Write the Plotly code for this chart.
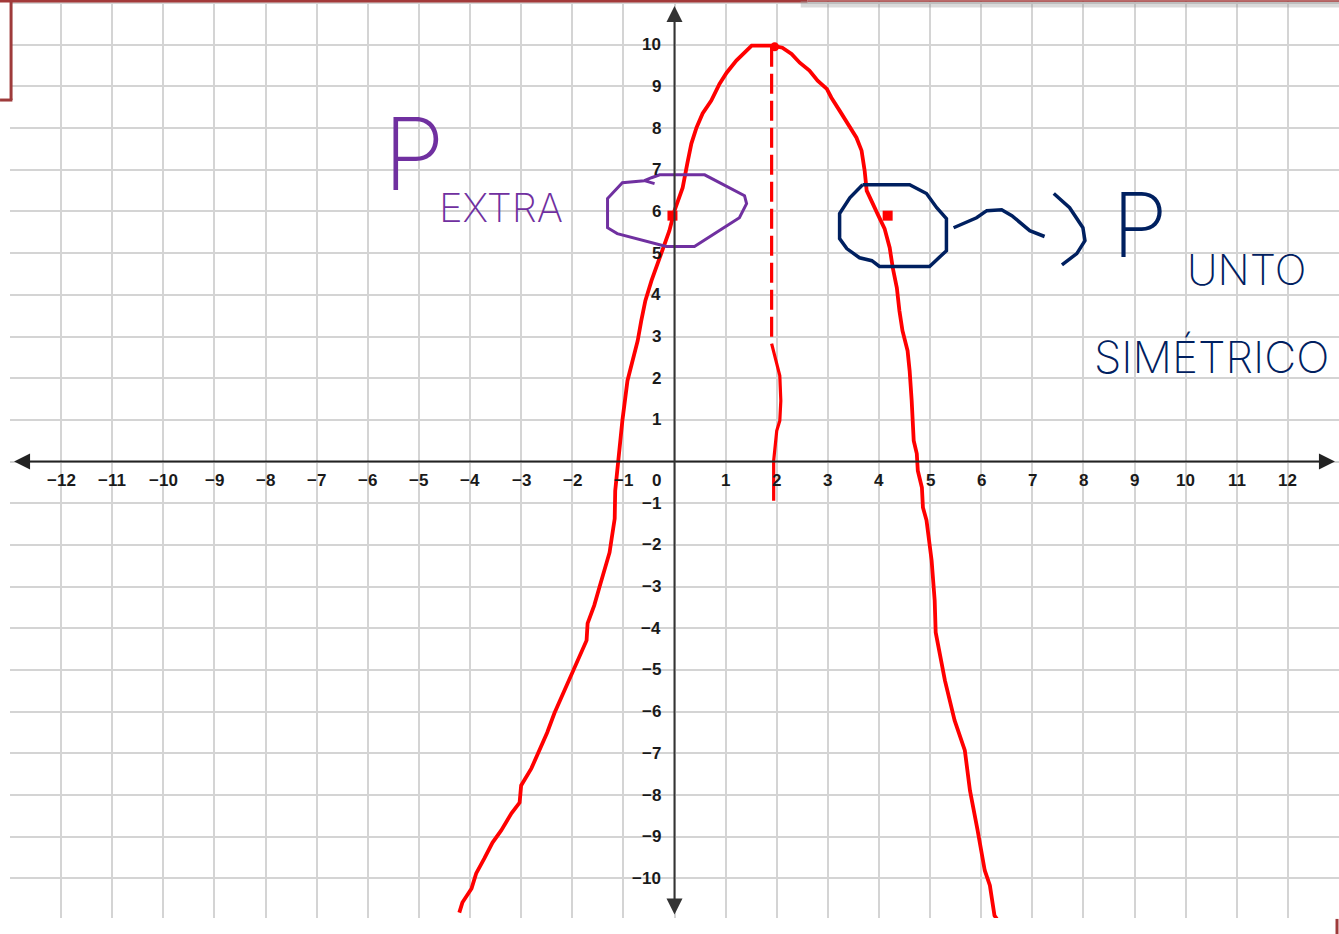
import plotly.graph_objects as go

# ---------------- data ----------------
x_ticks = [-12, -11, -10, -9, -8, -7, -6, -5, -4, -3, -2, -1, 1, 2, 3, 4, 5, 6, 7, 8, 9, 10, 11, 12]
x_tick_labels = ["−12", "−11", "−10", "−9", "−8", "−7", "−6", "−5", "−4", "−3", "−2", "−1",
                 "1", "2", "3", "4", "5", "6", "7", "8", "9", "10", "11", "12"]
y_ticks = [10, 9, 8, 7, 6, 5, 4, 3, 2, 1, -1, -2, -3, -4, -5, -6, -7, -8, -9, -10]
y_tick_labels = ["10", "9", "8", "7", "6", "5", "4", "3", "2", "1", "−1", "−2", "−3", "−4",
                 "−5", "−6", "−7", "−8", "−9", "−10"]

# hand-drawn parabola
curve_x = [-4.21, -4.15, -3.97, -3.88, -3.72, -3.56, -3.39, -3.19, -3.03, -3.00, -2.80, -2.64,
           -2.49, -2.35, -2.21, -2.09, -1.96, -1.82, -1.72, -1.70, -1.57, -1.47, -1.37, -1.27,
           -1.23, -1.17, -1.16, -1.14, -1.10, -1.06, -1.02, -0.92, -0.82, -0.72, -0.65, -0.57,
           -0.45, -0.33, -0.20, -0.10, 0.00, 0.16, 0.25, 0.33, 0.43, 0.55, 0.72, 0.88, 1.02,
           1.21, 1.41, 1.51, 1.92, 2.11, 2.29, 2.45, 2.64, 2.80, 2.98, 3.07, 3.23, 3.39, 3.56,
           3.66, 3.72, 3.76, 3.86, 3.97, 4.11, 4.21, 4.27, 4.35, 4.40, 4.46, 4.56, 4.60, 4.64,
           4.66, 4.68, 4.74, 4.76, 4.84, 4.86, 4.93, 5.03, 5.09, 5.11, 5.29, 5.48, 5.68, 5.78,
           5.93, 6.07, 6.17, 6.26, 6.46]
curve_y = [-10.82, -10.58, -10.24, -9.88, -9.52, -9.14, -8.85, -8.44, -8.18, -7.77, -7.36, -6.93,
           -6.50, -6.04, -5.66, -5.32, -4.96, -4.60, -4.29, -3.88, -3.45, -3.02, -2.57, -2.18,
           -1.85, -1.37, -0.70, -0.46, 0.10, 0.50, 0.98, 1.94, 2.42, 2.90, 3.38, 3.86,
           4.34, 4.77, 5.18, 5.54, 6.02, 6.57, 7.15, 7.63, 8.01, 8.35, 8.66, 9.06, 9.33,
           9.62, 9.86, 9.98, 9.98, 9.93, 9.78, 9.57, 9.38, 9.14, 8.94, 8.73, 8.42, 8.11, 7.77,
           7.46, 6.98, 6.50, 6.21, 5.95, 5.59, 5.13, 4.65, 4.17, 3.62, 3.14, 2.66, 2.18, 1.46,
           0.98, 0.50, 0.19, -0.22, -0.62, -1.10, -1.41, -2.37, -3.33, -4.10, -5.25, -6.21, -6.93, -7.89,
           -8.85, -9.81, -10.17, -10.89, -11.25]

# axis of symmetry (dashed part, then hand-drawn solid part)
axis_dash_x = [1.90, 1.90]
axis_dash_y = [9.95, 2.83]
axis_solid_x = [1.90, 1.98, 2.06, 2.08, 2.06, 2.00, 1.96, 1.94, 1.94]
axis_solid_y = [2.83, 2.42, 2.06, 1.46, 0.98, 0.74, 0.26, 0.02, -0.94]

# marked points
point_x = [-0.04, 4.17]
point_y = [5.90, 5.90]
vertex_x = [1.96]
vertex_y = [9.95]

# purple circle around extra point
purple_x = [-0.39, -0.59, -0.45, -0.29, 0.59, 0.88, 1.37, 1.41, 1.27, 0.94, 0.39, -0.16,
            -0.74, -1.12, -1.31, -1.31, -1.02, -0.59]
purple_y = [6.67, 6.74, 6.81, 6.88, 6.88, 6.69, 6.38, 6.19, 5.85, 5.59, 5.16, 5.16,
            5.35, 5.47, 5.61, 6.31, 6.69, 6.74]

# navy circle around symmetric point
navy_x = [3.68, 4.60, 4.93, 5.13, 5.32, 5.32, 4.99, 4.01, 3.86, 3.62, 3.37, 3.23, 3.23, 3.43, 3.68]
navy_y = [6.64, 6.64, 6.43, 6.09, 5.83, 5.06, 4.68, 4.68, 4.82, 4.89, 5.11, 5.35, 5.95, 6.33, 6.64]

# navy "~)" arrow
tilde_x = [5.46, 5.64, 5.91, 6.11, 6.40, 6.60, 6.95, 7.24]
tilde_y = [5.61, 5.71, 5.85, 6.02, 6.04, 5.90, 5.54, 5.40]
paren_x = [7.42, 7.73, 7.99, 8.03, 7.87, 7.58]
paren_y = [6.43, 6.09, 5.61, 5.30, 4.99, 4.72]

RED = "#ff0000"
PURPLE = "#7030a0"
NAVY = "#002060"

fig = go.Figure()

fig.add_trace(go.Scatter(x=curve_x, y=curve_y, mode="lines",
                         line=dict(color=RED, width=3.8), hoverinfo="skip"))
fig.add_trace(go.Scatter(x=axis_dash_x, y=axis_dash_y, mode="lines",
                         line=dict(color=RED, width=3.2, dash="20px,7px"), hoverinfo="skip"))
fig.add_trace(go.Scatter(x=axis_solid_x, y=axis_solid_y, mode="lines",
                         line=dict(color=RED, width=3.2), hoverinfo="skip"))
fig.add_trace(go.Scatter(x=point_x, y=point_y, mode="markers",
                         marker=dict(color=RED, size=10, symbol="square"), hoverinfo="skip"))
fig.add_trace(go.Scatter(x=vertex_x, y=vertex_y, mode="markers",
                         marker=dict(color=RED, size=9, symbol="circle"), hoverinfo="skip"))
fig.add_trace(go.Scatter(x=purple_x, y=purple_y, mode="lines",
                         line=dict(color=PURPLE, width=3), hoverinfo="skip"))
for xs, ys in [(navy_x, navy_y), (tilde_x, tilde_y), (paren_x, paren_y)]:
    fig.add_trace(go.Scatter(x=xs, y=ys, mode="lines",
                             line=dict(color=NAVY, width=3.5), hoverinfo="skip"))

annotations = []
# coordinate axes with arrowheads
annotations.append(dict(x=12.92, y=0, ax=-12.95, ay=0, xref="x", yref="y", axref="x", ayref="y",
                        text="", showarrow=True, arrowside="end+start", arrowhead=2,
                        startarrowhead=2, arrowsize=1.6, startarrowsize=1.6,
                        arrowwidth=2, arrowcolor="#222222"))
annotations.append(dict(x=0, y=10.93, ax=0, ay=-10.9, xref="x", yref="y", axref="x", ayref="y",
                        text="", showarrow=True, arrowside="end+start", arrowhead=2,
                        startarrowhead=2, arrowsize=1.6, startarrowsize=1.6,
                        arrowwidth=2, arrowcolor="#333333"))

tick_font = dict(family="Liberation Sans, Arial, sans-serif", size=17, color="#1a1a1a", weight="bold")
for xv, lab in zip(x_ticks, x_tick_labels):
    annotations.append(dict(x=xv, y=-0.46, xref="x", yref="y", text=lab, showarrow=False,
                            xanchor="center", yanchor="middle", font=tick_font))
for yv, lab in zip(y_ticks, y_tick_labels):
    annotations.append(dict(x=-0.22, y=yv, xref="x", yref="y", text=lab, showarrow=False,
                            xanchor="right", yanchor="middle", font=tick_font))
annotations.append(dict(x=-0.35, y=-0.46, xref="x", yref="y", text="0", showarrow=False,
                        xanchor="center", yanchor="middle", font=tick_font))

# handwritten words
hand = "Inter, Noto Sans, sans-serif"
annotations.append(dict(x=-5.1, y=7.4, xref="x", yref="y", text="P", showarrow=False,
                        font=dict(family=hand, size=100, color=PURPLE, weight=200)))
annotations.append(dict(x=-3.4, y=6.1, xref="x", yref="y", text="EXTRA", showarrow=False,
                        font=dict(family=hand, size=40, color=PURPLE, weight=200)))
annotations.append(dict(x=9.1, y=5.7, xref="x", yref="y", text="P", showarrow=False,
                        font=dict(family=hand, size=90, color=NAVY, weight=200)))
annotations.append(dict(x=11.2, y=4.6, xref="x", yref="y", text="UNTO", showarrow=False,
                        font=dict(family=hand, size=42, color=NAVY, weight=200)))
annotations.append(dict(x=10.5, y=2.5, xref="x", yref="y", text="SIMÉTRICO", showarrow=False,
                        font=dict(family=hand, size=44, color=NAVY, weight=200)))

shapes = [
    # window frame remnants
    dict(type="line", xref="paper", yref="paper", x0=-0.01, x1=0.6, y0=1.0, y1=1.0,
         line=dict(color="#a33a3a", width=3)),
    dict(type="rect", xref="paper", yref="paper", x0=0.595, x1=1.0, y0=0.993, y1=1.0,
         line=dict(width=0), fillcolor="rgba(150,150,150,0.35)"),
    dict(type="line", xref="paper", yref="paper", x0=0.6, x1=1.0, y0=1.0, y1=1.0,
         line=dict(color="#a33a3a", width=1.5)),
    dict(type="line", xref="paper", yref="paper", x0=0.0008, x1=0.0008, y0=1.0, y1=0.892,
         line=dict(color="#9e3b3b", width=3)),
    dict(type="line", xref="paper", yref="paper", x0=-0.0075, x1=0.0018, y0=0.892, y1=0.892,
         line=dict(color="#9e3b3b", width=3)),
    dict(type="line", xref="paper", yref="paper", x0=0.9985, x1=0.9985, y0=-0.001, y1=-0.018,
         line=dict(color="#9e3b3b", width=3)),
]

fig.update_layout(
    width=1339, height=934,
    margin=dict(l=10, r=0, t=1, b=16),
    paper_bgcolor="white", plot_bgcolor="white",
    showlegend=False,
    xaxis=dict(range=[-13, 13], dtick=1, tick0=0, showgrid=True, gridcolor="#d4d4d4",
               gridwidth=2, zeroline=False, showticklabels=False, ticks="", fixedrange=True),
    yaxis=dict(range=[-10.95, 11.05], dtick=1, tick0=0, showgrid=True, gridcolor="#d4d4d4",
               gridwidth=2, zeroline=False, showticklabels=False, ticks="", fixedrange=True),
    annotations=annotations,
    shapes=shapes,
)

fig.write_html("out.html", config={"displayModeBar": False},
               post_script="document.body.style.margin='0';document.body.style.overflow='hidden';")
